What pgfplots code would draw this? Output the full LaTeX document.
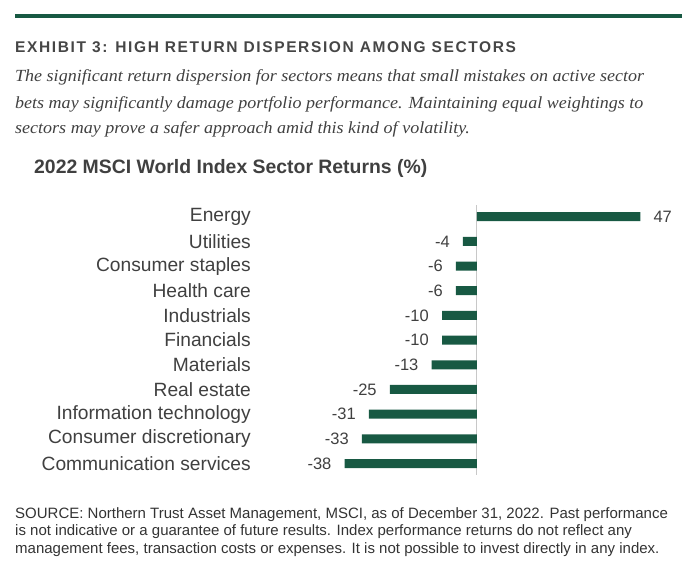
\documentclass[border=0pt]{standalone}
\usepackage{fontspec}
\setmainfont{Liberation Sans}
\newfontfamily\serifit{Liberation Serif}
\usepackage{pgfplots}
\pgfplotsset{compat=1.18}
\definecolor{ntgreen}{HTML}{185943}
\definecolor{txtgray}{HTML}{404040}
\definecolor{hdrgray}{HTML}{464646}
\definecolor{footgray}{HTML}{333333}
\definecolor{zerogray}{HTML}{C8C8C8}

\begin{document}
\begin{tikzpicture}[x=1pt,y=1pt]
	\useasboundingbox (0,0) rectangle (700,-570);
	% top rule
	\fill[ntgreen] (15,-14.3) rectangle (682,-18.3);
	% heading and intro
	\node[anchor=base west, inner sep=0pt, text=hdrgray] at (15,-52)
		{\fontsize{15.5}{18}\selectfont\bfseries\addfontfeature{LetterSpace=10.5}EXHIBIT 3: HIGH RETURN DISPERSION AMONG SECTORS};
	\node[anchor=base west, inner sep=0pt, text=txtgray] at (15,-81.7)
		{\scalebox{1.06}[1]{\fontsize{17}{20}\selectfont\serifit\itshape The significant return dispersion for sectors means that small mistakes on active sector}};
	\node[anchor=base west, inner sep=0pt, text=txtgray] at (15,-108)
		{\scalebox{1.06}[1]{\fontsize{17}{20}\selectfont\serifit\itshape bets may significantly damage portfolio performance. Maintaining equal weightings to}};
	\node[anchor=base west, inner sep=0pt, text=txtgray] at (15,-133.5)
		{\scalebox{1.06}[1]{\fontsize{17}{20}\selectfont\serifit\itshape sectors may prove a safer approach amid this kind of volatility.}};
	% chart title
	\node[anchor=base west, inner sep=0pt, text=txtgray] at (34,-173.3)
		{\fontsize{19.4}{22}\selectfont\bfseries 2022 MSCI World Index Sector Returns (\%)};

	\begin{axis}[
		at={(337.6pt,-205.1pt)}, anchor=north west,
		x=3.48pt, y=24.68pt, y dir=reverse,
		xmin=-40, xmax=50, ymin=-0.47, ymax=10.47,
		scale only axis, clip=false,
		axis line style={draw=none},
		xtick=\empty, ytick={0,...,10},
		major tick length=0pt,
		yticklabels={Energy, Utilities, Consumer staples, Health care, Industrials, Financials, Materials, Real estate, Information technology, Consumer discretionary, Communication services},
		yticklabel style={anchor=east, inner sep=0pt, xshift=-86.6pt, text=txtgray, font=\fontsize{19.2}{22}\selectfont},
		/pgf/number format/assume math mode=true,
		xbar, bar width=9pt,
		point meta=x,
		nodes near coords,
		nodes near coords align=horizontal,
		every node near coord/.append style={inner xsep=13pt, inner ysep=0pt, text=txtgray, font=\fontsize{16.5}{19}\selectfont},
	]
		\draw[zerogray, line width=0.8pt] (axis cs:0,-0.47) -- (axis cs:0,10.47);
		\addplot[fill=ntgreen, draw=none] coordinates {
			(47,0) (-4,1) (-6,2) (-6,3) (-10,4) (-10,5)
			(-13,6) (-25,7) (-31,8) (-33,9) (-38,10)
		};
	\end{axis}

	% footnote
	\node[anchor=base west, inner sep=0pt, text=footgray] at (15,-518)
		{\fontsize{15}{17}\selectfont SOURCE: Northern Trust Asset Management, MSCI, as of December 31, 2022. Past performance};
	\node[anchor=base west, inner sep=0pt, text=footgray] at (15,-535.5)
		{\fontsize{15}{17}\selectfont is not indicative or a guarantee of future results. Index performance returns do not reflect any};
	\node[anchor=base west, inner sep=0pt, text=footgray] at (15,-553)
		{\fontsize{15}{17}\selectfont management fees, transaction costs or expenses. It is not possible to invest directly in any index.};
\end{tikzpicture}
\end{document}
